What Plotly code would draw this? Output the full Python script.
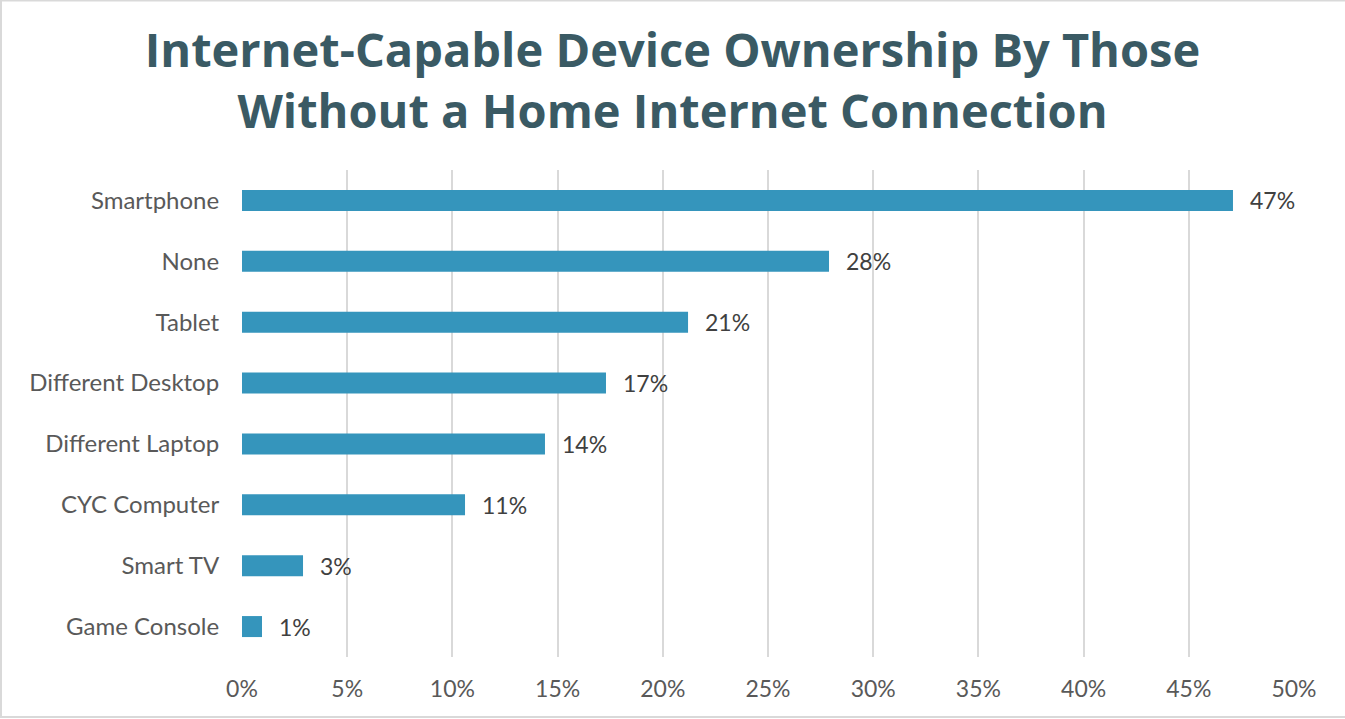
import plotly.graph_objects as go

categories = ["Smartphone", "None", "Tablet", "Different Desktop", "Different Laptop",
              "CYC Computer", "Smart TV", "Game Console"]
values = [47.1, 27.9, 21.2, 17.3, 14.4, 10.6, 2.9, 0.95]
tick_vals = [0, 5, 10, 15, 20, 25, 30, 35, 40, 45, 50]
tick_text = [f"{v}%" for v in tick_vals]

title_text = "Internet-Capable Device Ownership By Those<br>Without a Home Internet Connection"

FONT = "Century Gothic, Lato, Open Sans, sans-serif"
TITLE_FONT = "Century Gothic, Open Sans, Lato, sans-serif"
BAR_COLOR = "#3595BC"
TITLE_COLOR = "#3A5A64"
TICK_COLOR = "#595959"
LABEL_COLOR = "#404040"
GRID = "#D9D9D9"

fig = go.Figure()
fig.add_trace(go.Bar(
    x=values, y=categories, orientation="h",
    marker=dict(color=BAR_COLOR, line=dict(width=0)),
    hoverinfo="skip",
))

for v, c in zip(values, categories):
    fig.add_annotation(x=v, y=c, text=f"{round(v):.0f}%", showarrow=False,
                       xanchor="left", yanchor="middle", xshift=15,
                       font=dict(family=FONT, size=23, color=LABEL_COLOR))

W, H = 1345, 719
L, R, T, B = 242, 51, 170, 62
pw, ph = W - L - R, H - T - B
fig.add_shape(type="rect", xref="paper", yref="paper",
              x0=(1 - L) / pw, x1=(W + 5 - L) / pw,
              y0=(H - B - 717) / ph, y1=(H - B - 0.5) / ph,
              line=dict(color=GRID, width=2), fillcolor="rgba(0,0,0,0)", layer="below")

fig.update_layout(
    width=W, height=H,
    margin=dict(l=L, r=R, t=T, b=B),
    paper_bgcolor="white", plot_bgcolor="white",
    showlegend=False,
    bargap=0.655,
    title=dict(text=title_text, x=0.5, xref="container", xanchor="center",
               y=1 - 67 / H, yref="container", yanchor="middle",
               font=dict(family=TITLE_FONT, size=47, color=TITLE_COLOR, weight="bold")),
    xaxis=dict(range=[0, 50], tickvals=tick_vals, ticktext=tick_text,
               showgrid=True, gridcolor=GRID, gridwidth=2, zeroline=False,
               showline=False, ticks="outside", ticklen=11, tickcolor="rgba(0,0,0,0)",
               tickfont=dict(family=FONT, size=23, color=TICK_COLOR), fixedrange=True),
    yaxis=dict(categoryorder="array", categoryarray=categories, autorange="reversed",
               showgrid=False, zeroline=False, showline=False,
               ticks="outside", ticklen=17, tickcolor="rgba(0,0,0,0)",
               tickfont=dict(family=FONT, size=24, color=TICK_COLOR), fixedrange=True),
)

fig.write_html("out.html")
